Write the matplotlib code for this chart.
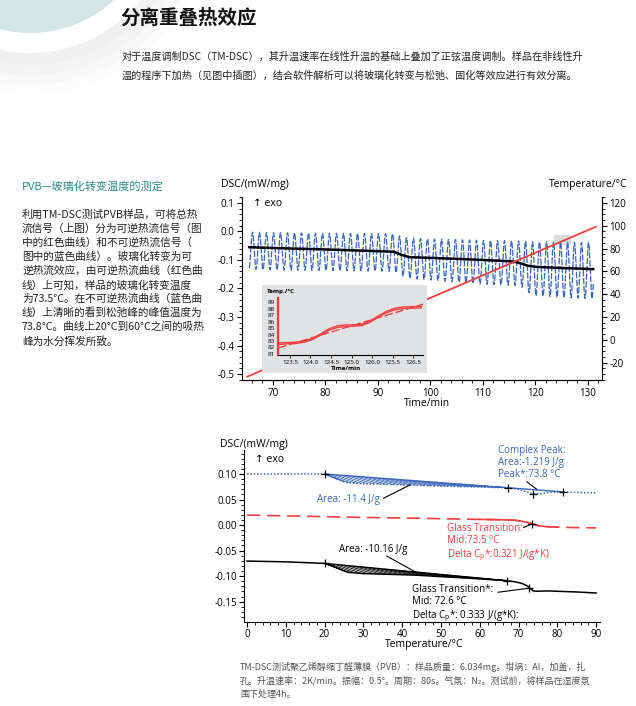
import numpy as np
import matplotlib
matplotlib.use('Agg')
import matplotlib.pyplot as plt
from matplotlib.patches import Circle, Rectangle
from matplotlib.collections import LineCollection
from matplotlib.ticker import MultipleLocator, FormatStrFormatter

plt.rcParams['font.family'] = ['Open Sans', 'DejaVu Sans']
plt.rcParams['axes.unicode_minus'] = False
CJK = ['Noto Sans CJK SC', 'DejaVu Sans']

BLUE = '#3a67b8'
RED = '#ee4040'

# ---- top chart: TM-DSC raw signal vs time
mod_period = 80 / 60.0  # 80 s modulation period, in min
env_time = [65.5, 70, 80, 93, 94.5, 96, 100, 110, 117, 119.5, 125, 131]
env_upper = [-0.002, -0.004, -0.006, -0.008, -0.018, -0.023, -0.026, -0.031, -0.033, -0.036, -0.037, -0.039]
env_lower = [-0.132, -0.135, -0.137, -0.14, -0.155, -0.165, -0.17, -0.185, -0.19, -0.225, -0.232, -0.236]

black_time = [65.5, 70, 80, 90, 93, 94.5, 96, 105, 115, 116.5, 118.5, 120, 125, 131]
black_dsc = [-0.055, -0.058, -0.063, -0.069, -0.071, -0.082, -0.09, -0.096, -0.104, -0.108, -0.12, -0.124, -0.128, -0.132]

red_time = [65.1, 131.5]
red_temp = [-32.3, 99.2]

dsc_ticks = [-0.5, -0.4, -0.3, -0.2, -0.1, 0.0, 0.1]
temp_ticks = [-20, 0, 20, 40, 60, 80, 100, 120]

inset_time = [123.25, 123.45, 123.65, 123.85, 124.05, 124.25, 124.45, 124.65, 124.85, 125.05,
              125.25, 125.45, 125.65, 125.85, 126.05, 126.25, 126.45, 126.7]
inset_temp_a = [82.7, 82.75, 82.8, 83.0, 83.4, 84.1, 84.9, 85.35, 85.5, 85.5,
                85.6, 86.1, 86.9, 87.6, 88.1, 88.3, 88.35, 88.4]
inset_temp_b = [82.45, 82.55, 82.6, 82.8, 83.2, 83.9, 84.65, 85.1, 85.25, 85.3,
                85.4, 85.9, 86.7, 87.4, 87.85, 88.05, 88.1, 88.15]
inset_lin_time = [123.22, 126.75]
inset_lin_temp = [81.9, 88.75]
inset_ticks = [123.5, 124.0, 124.5, 125.0, 125.5, 126.0, 126.5]
inset_ticklabels = ['123.5', '124.0', '124.5', '125.0', '126.0', '125.5', '126.5']

# ---- bottom chart: separated signals vs temperature
blue_temp = [0, 10, 20, 22, 24.4, 26, 30, 34.7, 43.3, 51.9, 60, 67.4, 70, 72, 73.8, 76, 78, 81.4, 85, 90]
blue_dsc = [0.100, 0.100, 0.100, 0.094, 0.086, 0.083, 0.081, 0.080, 0.078, 0.076, 0.0745, 0.073,
            0.070, 0.065, 0.061, 0.062, 0.064, 0.065, 0.064, 0.063]
blue_base_temp = [20, 67.4, 81.4]
blue_base_dsc = [0.100, 0.073, 0.065]
blue_marks_temp = [20, 67.4, 73.8, 81.4]
blue_marks_dsc = [0.100, 0.073, 0.061, 0.065]

red_curve_temp = [0, 10, 20, 30, 40, 50, 60, 65, 69, 71, 73.5, 75, 77, 80, 85, 90]
red_curve_dsc = [0.0195, 0.018, 0.0165, 0.015, 0.0138, 0.0125, 0.0112, 0.0105, 0.0095, 0.0075,
                 0.0025, -0.001, -0.003, -0.004, -0.005, -0.0055]
red_marks_temp = [73.5]
red_marks_dsc = [0.002]

black_temp = [0, 10, 20, 22, 24.4, 26, 30, 34.7, 43.3, 51.9, 60.5, 67, 69, 70.8, 72, 73, 73.8, 75, 77.7, 85, 90]
black_curve_dsc = [-0.0705, -0.072, -0.075, -0.080, -0.088, -0.0925, -0.095, -0.096, -0.098, -0.1017,
                   -0.1056, -0.109, -0.111, -0.114, -0.118, -0.124, -0.129, -0.1295, -0.129, -0.131, -0.133]
black_base_temp = [20, 67]
black_base_dsc = [-0.075, -0.109]
black_marks_temp = [20, 67, 72.6]
black_marks_dsc = [-0.075, -0.109, -0.123]

bottom_dsc_ticks = [-0.15, -0.10, -0.05, 0.00, 0.05, 0.10]

W, H = 636, 706


def box(x0, y0, x1, y1):
    # pixel box (top-left origin) -> figure fraction
    return [x0 / W, 1 - y1 / H, (x1 - x0) / W, (y1 - y0) / H]


def leader(a, p0, p1):
    a.annotate('', xy=p1, xytext=p0, annotation_clip=False,
               arrowprops=dict(arrowstyle='-', lw=0.8, shrinkA=0, shrinkB=0))


def hatch_band(a, x0, x1, cx, cy, bx, by, color, step=1.6, run=7.0):
    # slanted hatch lines between baseline (top) and curve (bottom)
    segs = []
    for s in np.arange(x0 - run, x1, step):
        xa = max(s, x0)
        xb = min(s + run, x1)
        if xb - xa < 0.3:
            continue
        segs.append([(xa, np.interp(xa, bx, by)), (xb, np.interp(xb, cx, cy))])
    a.add_collection(LineCollection(segs, colors=color, linewidths=0.6))


fig = plt.figure(figsize=(W / 100, H / 100), dpi=100)

# background decoration
bg = fig.add_axes([0, 0, 1, 1])
bg.set_xlim(0, W)
bg.set_ylim(H, 0)
bg.axis('off')
for r, c in [(185, '#fcfcfc'), (175, '#f8f8f8'), (165, '#f4f4f4'), (155, '#f0f0f0'), (143, 'white'), (123, '#d3e6e4')]:
    bg.add_patch(Circle((30, -90), r, color=c, lw=0))

# ---------- top chart
ax = fig.add_axes(box(242, 197, 602, 380))
ax.set_facecolor('none')
ax.set_xlim(64.1, 132.67)
ax.set_ylim(-0.521, 0.121)
ax2 = ax.twinx()
ax2.set_ylim(-35.25, 125.25)

t = np.arange(65.5, 131.0, 0.005)
up = np.interp(t, env_time, env_upper)
lo = np.interp(t, env_time, env_lower)
mod = (up + lo) / 2 + (up - lo) / 2 * np.cos(2 * np.pi * (t - 66.1) / mod_period)
ax.add_patch(Rectangle((123.5, 83), 3.3, 9, color='#dcdcdc', lw=0, transform=ax2.transData, zorder=0))
ax.plot(t, mod, color=BLUE, lw=0.9, ls=(0, (5, 1.3)), zorder=2)
ax.plot(black_time, black_dsc, color='black', lw=1.8, zorder=3)
ax2.plot(red_time, red_temp, color=RED, lw=1.3)

for a in (ax, ax2):
    a.spines['top'].set_visible(False)
    a.tick_params(direction='out', length=3.5, width=0.8, labelsize=7, pad=2)
    a.tick_params(which='minor', direction='out', length=2, width=0.6)
ax.spines['right'].set_visible(False)
ax2.spines['left'].set_visible(False)
ax.set_xticks(range(70, 131, 10))
ax.xaxis.set_minor_locator(MultipleLocator(2))
ax.set_yticks(dsc_ticks)
ax.yaxis.set_major_formatter(FormatStrFormatter('%.1f'))
ax.yaxis.set_minor_locator(MultipleLocator(0.02))
ax2.set_yticks(temp_ticks)
ax2.yaxis.set_minor_locator(MultipleLocator(5))

# inset
ib = fig.add_axes(box(262, 285, 427, 373))
ib.set_facecolor('#e1e2e4')
ib.set_xticks([])
ib.set_yticks([])
for s in ib.spines.values():
    s.set_visible(False)
ain = fig.add_axes(box(278, 298, 423, 355))
ain.set_facecolor('none')
ain.set_xlim(123.21, 126.74)
ain.set_ylim(80.8, 89.7)
ain.plot(inset_time, inset_temp_a, color=RED, lw=1.0)
ain.plot(inset_time, inset_temp_b, color=RED, lw=1.0)
ain.plot(inset_lin_time, inset_lin_temp, color=RED, lw=1.0, ls=(0, (6, 2)))
for s in ['top', 'right']:
    ain.spines[s].set_visible(False)
ain.spines['left'].set_color(RED)
ain.spines['left'].set_linewidth(1.6)
ain.spines['bottom'].set_linewidth(0.8)
ain.set_xticks(inset_ticks)
ain.set_xticklabels(inset_ticklabels)
ain.set_yticks(range(81, 90))
ain.tick_params(axis='x', length=2, width=0.6, labelsize=4.5, pad=1.5)
ain.tick_params(axis='y', length=0, labelsize=4.5, pad=2)

# ---------- bottom chart
axb = fig.add_axes(box(244, 450, 600, 622))
axb.set_facecolor('none')
axb.set_xlim(-0.77, 91.0)
axb.set_ylim(-0.1898, 0.147)

hatch_band(axb, 20, 67.4, blue_temp, blue_dsc, blue_base_temp, blue_base_dsc, BLUE)
axb.plot(blue_temp, blue_dsc, color=BLUE, lw=1.1, ls=(0, (1, 1.2)))
axb.plot(blue_base_temp, blue_base_dsc, color=BLUE, lw=1.0)
axb.plot(blue_marks_temp, blue_marks_dsc, ls='none', marker='+', ms=6, mew=0.9, color='black')

rt = np.array(red_curve_temp)
rd = np.array(red_curve_dsc)
axb.plot(rt, rd, color=RED, lw=1.2, ls=(0, (8, 4)))
seg = (rt >= 60) & (rt <= 80)
axb.plot(rt[seg], rd[seg], color=RED, lw=1.2)
axb.plot(red_marks_temp, red_marks_dsc, ls='none', marker='+', ms=6, mew=0.9, color='black')

hatch_band(axb, 20, 67, black_temp, black_curve_dsc, black_base_temp, black_base_dsc, 'black')
axb.plot(black_temp, black_curve_dsc, color='black', lw=1.1)
axb.plot(black_base_temp, black_base_dsc, color='black', lw=1.0)
axb.plot(black_marks_temp, black_marks_dsc, ls='none', marker='+', ms=6, mew=0.9, color='black')

for s in ['top', 'right']:
    axb.spines[s].set_visible(False)
axb.tick_params(direction='out', length=3.5, width=0.8, labelsize=7, pad=1.5)
axb.tick_params(which='minor', direction='out', length=2, width=0.6)
axb.set_xticks(range(0, 91, 10))
axb.xaxis.set_minor_locator(MultipleLocator(2))
axb.set_yticks(bottom_dsc_ticks)
axb.yaxis.set_major_formatter(FormatStrFormatter('%.2f'))
axb.yaxis.set_minor_locator(MultipleLocator(0.01))

# annotations
axb.text(64.65, 0.1568, 'Complex Peak:\nArea:-1.219 J/g\nPeak*:73.8 °C', color=BLUE, va='top',
         fontsize=7, linespacing=1.15, clip_on=False)
leader(axb, (72.1, 0.085), (74.7, 0.070))
axb.text(17.97, 0.0505, 'Area: -11.4 J/g', color=BLUE, va='center', fontsize=7)
leader(axb, (35.15, 0.0524), (42.0, 0.0785))
axb.text(51.65, 0.0045, 'Glass Transition:\nMid:73.5 °C\nDelta C$_\\mathregular{p}$*:0.321 J/(g*K)',
         color=RED, va='top', fontsize=7, linespacing=1.15)
leader(axb, (71.25, -0.0051), (73.4, 0.0021))
axb.text(23.8, -0.0469, 'Area: -10.16 J/g', color='black', va='center', fontsize=7)
leader(axb, (36.0, -0.0606), (43.8, -0.0933))
axb.text(42.6, -0.1154, 'Glass Transition*:\nMid: 72.6 °C\nDelta C$_\\mathregular{p}$*: 0.333 J/(g*K):',
         color='black', va='top', fontsize=7, linespacing=1.15)
leader(axb, (64.65, -0.1316), (72.5, -0.1238))

# ---------- overlay: page text and axis titles
ov = fig.add_axes([0, 0, 1, 1])
ov.set_xlim(0, W)
ov.set_ylim(H, 0)
ov.axis('off')

ov.text(120, 18, '分离重叠热效应', family=CJK, fontsize=14, weight='bold', va='center', color='#111111')
ov.text(122, 57, '对于温度调制DSC（TM-DSC），其升温速率在线性升温的基础上叠加了正弦温度调制。样品在非线性升',
        family=CJK, fontsize=7.3, va='center', color='#222222')
ov.text(122, 76, '温的程序下加热（见图中插图），结合软件解析可以将玻璃化转变与松弛、固化等效应进行有效分离。',
        family=CJK, fontsize=7.3, va='center', color='#222222')

ov.text(22, 186, 'PVB—玻璃化转变温度的测定', family=CJK, fontsize=8, va='center', color='#2e8b8b')
body = ['利用TM-DSC测试PVB样品，可将总热',
        '流信号（上图）分为可逆热流信号（图',
        '中的红色曲线）和不可逆热流信号（',
        '图中的蓝色曲线）。玻璃化转变为可',
        '逆热流效应，由可逆热流曲线（红色曲',
        '线）上可知，样品的玻璃化转变温度',
        '为73.5°C。在不可逆热流曲线（蓝色曲',
        '线）上清晰的看到松弛峰的峰值温度为',
        '73.8°C。曲线上20°C到60°C之间的吸热',
        '峰为水分挥发所致。']
for i, line in enumerate(body):
    ov.text(22, 215 + 14 * i, line, family=CJK, fontsize=7.7, va='center', color='#222222')

caption = ['TM-DSC测试聚乙烯醇缩丁醛薄膜（PVB）：样品质量：6.034mg。坩埚：Al，加盖，扎',
           '孔。升温速率：2K/min。振幅：0.5°。周期：80s。气氛：N₂。测试前，将样品在湿度氛',
           '围下处理4h。']
for i, line in enumerate(caption):
    ov.text(240, 667 + 13.5 * i, line, family=CJK, fontsize=6.5, va='center', color='#555555')

# chart titles
ov.text(221, 185, 'DSC/(mW/mg)', fontsize=7.5, va='center')
ov.text(627, 185, 'Temperature/°C', fontsize=7.5, va='center', ha='right')
ov.text(253, 203, '↑ exo', fontsize=7.5, va='center')
ov.text(427, 403, 'Time/min', fontsize=7.5, va='center', ha='center')
ov.text(267, 292, 'Temp./°C', fontsize=4.5, va='center', weight='bold')
ov.text(346, 368, 'Time/min', fontsize=4.5, va='center', ha='center', weight='bold')
ov.text(220, 444, 'DSC/(mW/mg)', fontsize=7.5, va='center')
ov.text(255, 460, '↑ exo', fontsize=7.5, va='center')
ov.text(424, 644, 'Temperature/°C', fontsize=7.5, va='center', ha='center')

fig.savefig('out.png', dpi=100)
